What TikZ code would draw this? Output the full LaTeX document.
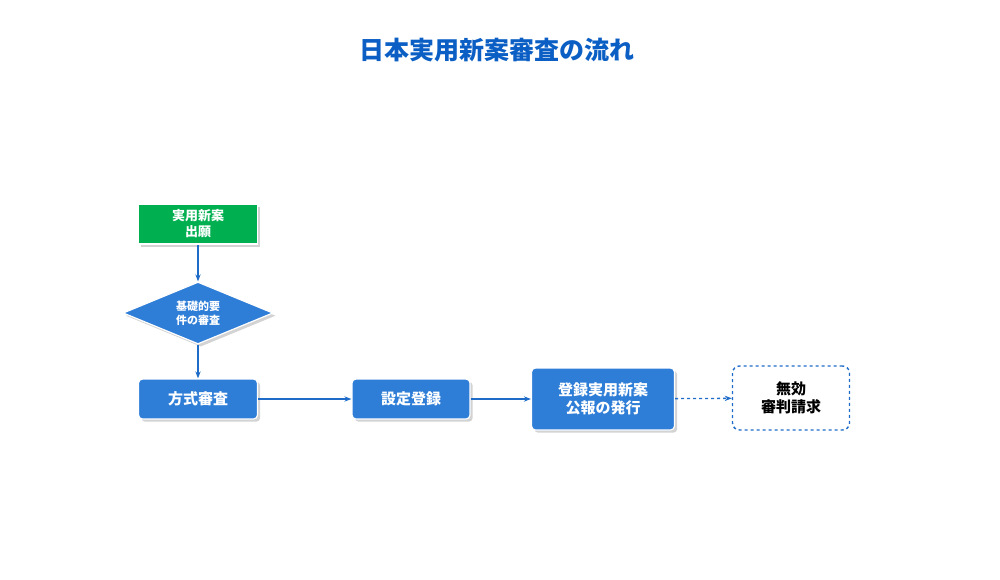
\documentclass[tikz,border=0pt]{standalone}
\usepackage{fontspec}
\setmainfont{Noto Sans CJK JP}
\usetikzlibrary{shapes.geometric,arrows.meta,shadows}
\definecolor{boxblue}{HTML}{2E7DD7}
\definecolor{lineblue}{HTML}{1E6CC8}
\definecolor{titleblue}{HTML}{0B5FC4}
\definecolor{startgreen}{HTML}{00B050}
\tikzset{
  procbox/.style={draw=white,line width=1.2pt,fill=boxblue,rounded corners=4pt,text=white,
    font=\bfseries\fontsize{15}{18}\selectfont,align=center,drop shadow={opacity=0.35}},
  flow/.style={->,>={Stealth[length=7pt]},draw=lineblue,line width=1.3pt}
}
\begin{document}
\begin{tikzpicture}[x=1pt,y=-1pt]
  \useasboundingbox (0,0) rectangle (1000,579);
  \node (title) at (497,50) {\textcolor{titleblue}{\bfseries\fontsize{25}{30}\selectfont 日本実用新案審査の流れ}};

  \node[procbox,fill=startgreen,rounded corners=0pt,minimum width=119pt,minimum height=40pt,
    font=\bfseries\fontsize{13}{16}\selectfont] (apply) at (198,224) {実用新案\\出願};
  \node[diamond,aspect=2.4,fill=boxblue,draw=white,line width=1.2pt,text=white,align=center,
    minimum width=150pt,minimum height=62pt,inner sep=0pt,drop shadow={opacity=0.35},
    font=\bfseries\fontsize{11}{14}\selectfont] (basic) at (198,313) {基礎的要\\件の審査};
  \node[procbox,minimum width=119pt,minimum height=40pt] (formal) at (198,399) {方式審査};
  \node[procbox,minimum width=118pt,minimum height=40pt] (reg) at (411,399) {設定登録};
  \node[procbox,minimum width=143pt,minimum height=62pt] (pub) at (603,399) {登録実用新案\\公報の発行};
  \node[draw=lineblue,dashed,line width=1.4pt,rounded corners=7pt,fill=white,
    minimum width=117pt,minimum height=64pt,align=center,
    font=\bfseries\fontsize{15}{18}\selectfont] (inval) at (791,398) {無効\\審判請求};

  \draw[flow] (apply) -- (basic);
  \draw[flow] (basic) -- (formal);
  \draw[flow] (formal) -- (reg);
  \draw[flow] (reg) -- (pub);
  \draw[flow,dashed] (pub) -- (inval);
\end{tikzpicture}
\end{document}
